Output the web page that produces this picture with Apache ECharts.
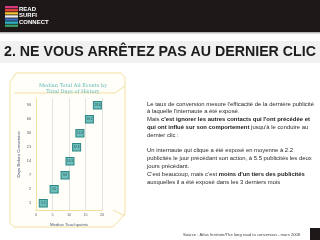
<!DOCTYPE html>
<html>
<head>
<meta charset="utf-8">
<script src="https://cdn.jsdelivr.net/npm/echarts@6/dist/echarts.min.js"></script>
<style>
  html, body { margin: 0; padding: 0; background: #fff; }
  #main { width: 320px; height: 240px; }
</style>
</head>
<body>
<div id="main"></div>
<script>
// days before conversion (y categories) and median touchpoints
var days = ['1', '2', '7', '14', '21', '30', '60', '90'];
var touchpoints = [2.2, 5.5, 8.8, 10.3, 12.3, 13.3, 16.2, 18.6];
var xTicks = [0, 5, 10, 15, 20];

var slideTitle = '2. NE VOUS ARRÊTEZ PAS AU DERNIER CLIC';
var bodyLines = [
  "Le taux de conversion mesure l'efficacité de la dernière publicité",
  "à laquelle l'internaute a été exposé.",
  "Mais {b|c'est ignorer les autres contacts qui l'ont précédée et}",
  "{b|qui ont influé sur son comportement} jusqu'à le conduire au",
  "dernier clic :",
  "",
  "Un internaute qui clique a été exposé en moyenne à 2.2",
  "publicités le jour précédant son action, à 5.5 publicités les deux",
  "jours précédant.",
  "C'est beaucoup, mais c'est {b|moins d'un tiers des publicités}",
  "auxquelles il a été exposé dans les 3 derniers mois"
];
var sourceText = 'Source : Atlas Institute/The long road to conversion - mars 2008';

var chart = echarts.init(document.getElementById('main'), null, { renderer: 'canvas' });

var pts = [];
for (var i = 0; i < days.length; i++) {
  pts.push([touchpoints[i], days[i]]);
}

// logo stripes
var stripeColors = ['#d63a7a', '#e8463c', '#f2c230', '#eeeeee', '#3a6fc0', '#2bb5c8', '#3aa36a'];
var logo = [];
for (var s = 0; s < stripeColors.length; s++) {
  logo.push({
    type: 'rect',
    shape: { x: 5, y: 6 + s * 3.1, width: 13, height: 2.3 },
    style: { fill: stripeColors[s] }
  });
}

var frameColor = '#f2e0a0';
var bodyFont = '"Liberation Sans", Arial, sans-serif';

var option = {
  animation: false,
  backgroundColor: '#fff',
  graphic: [
    // header band
    { type: 'rect', z: -10, shape: { x: 0, y: 0, width: 320, height: 32 }, style: { fill: '#1e1819' } },
    { type: 'rect', z: -10, shape: { x: 0, y: 32, width: 320, height: 1.5 }, style: { fill: '#b9b6b6' } },
    { type: 'group', children: logo },
    { type: 'text', style: { x: 19, y: 6, text: 'READ\nSURFI\nCONNECT', fill: '#fff',
        font: 'bold 6px ' + bodyFont, lineHeight: 6.5 } },
    // title band
    { type: 'rect', z: -10, shape: { x: 0, y: 41, width: 320, height: 22 }, style: { fill: '#f1f1f1' } },
    { type: 'text', style: { x: 4, y: 52, text: slideTitle, fill: '#1c1c1c', verticalAlign: 'middle',
        font: 'bold 14.2px ' + bodyFont } },
    // chart frame
    { type: 'polygon', z: -5, shape: { points: [[16, 73], [121, 73], [125, 77], [125, 214], [113, 227], [14, 227], [10, 223], [10, 82]] },
      style: { fill: '#fffef9', stroke: frameColor, lineWidth: 1 } },
    { type: 'polyline', z: -4, shape: { points: [[14, 93], [115, 93], [125, 86]] },
      style: { stroke: frameColor, lineWidth: 1, fill: null } },
    { type: 'polyline', z: -4, shape: { points: [[113, 210], [125, 216]] },
      style: { stroke: frameColor, lineWidth: 1, fill: null } },
    // right text
    { type: 'text', style: { x: 147, y: 100, text: bodyLines.join('\n'), fill: '#2a2a2a',
        font: '5.9px ' + bodyFont, lineHeight: 7.8,
        rich: { b: { fontWeight: 'bold', fontSize: 5.9, fontFamily: bodyFont, lineHeight: 7.8, fill: '#1a1a1a' } } } },
    { type: 'text', style: { x: 183, y: 234.5, text: sourceText, fill: '#444', verticalAlign: 'middle',
        font: '4.15px ' + bodyFont } },
    { type: 'rect', shape: { x: 310, y: 228, width: 10, height: 12 }, style: { fill: '#1e1819' } }
  ],
  title: {
    text: 'Median Total Ad Events by\nTotal Days of History',
    left: 68, top: 77, textAlign: 'center',
    textStyle: { color: '#5bb6b3', fontSize: 5, lineHeight: 6.5, fontWeight: 'normal', fontFamily: '"DejaVu Serif", "Liberation Serif", serif' }
  },
  grid: { left: 36, top: 98.3, width: 66, height: 112 },
  xAxis: {
    type: 'value', min: 0, max: 20, interval: 5,
    name: 'Median Touchpoints', nameLocation: 'middle', nameGap: 13,
    nameTextStyle: { fontSize: 4.3, color: '#4f5a78', fontFamily: bodyFont },
    axisLine: { show: true, lineStyle: { color: frameColor, width: 1 } },
    axisTick: { show: false },
    axisLabel: { fontSize: 3.8, color: '#666', margin: 3,
      formatter: function (v) { return xTicks.indexOf(v) >= 0 ? String(v) : ''; } },
    splitLine: { show: true, lineStyle: { color: '#dcdcdc', width: 0.8 } }
  },
  yAxis: {
    type: 'category', data: days,
    name: 'Days Before Conversion', nameLocation: 'middle', nameGap: 15, nameRotate: 90,
    nameTextStyle: { fontSize: 4.3, color: '#4f5a78', fontFamily: bodyFont },
    axisLine: { show: true, lineStyle: { color: frameColor, width: 1 } },
    axisTick: { show: false },
    axisLabel: { fontSize: 3.8, color: '#555', margin: 5 },
    splitLine: { show: false }
  },
  series: [{
    type: 'scatter',
    data: pts,
    symbol: 'rect',
    symbolSize: [8, 7.5],
    itemStyle: { color: '#6fbfbd', borderColor: '#2e8786', borderWidth: 1, opacity: 1 },
    label: { show: true, position: 'inside', fontSize: 3, color: '#1f4f50',
      formatter: function (p) { return p.value[0]; } }
  }]
};

chart.setOption(option);
</script>
</body>
</html>
